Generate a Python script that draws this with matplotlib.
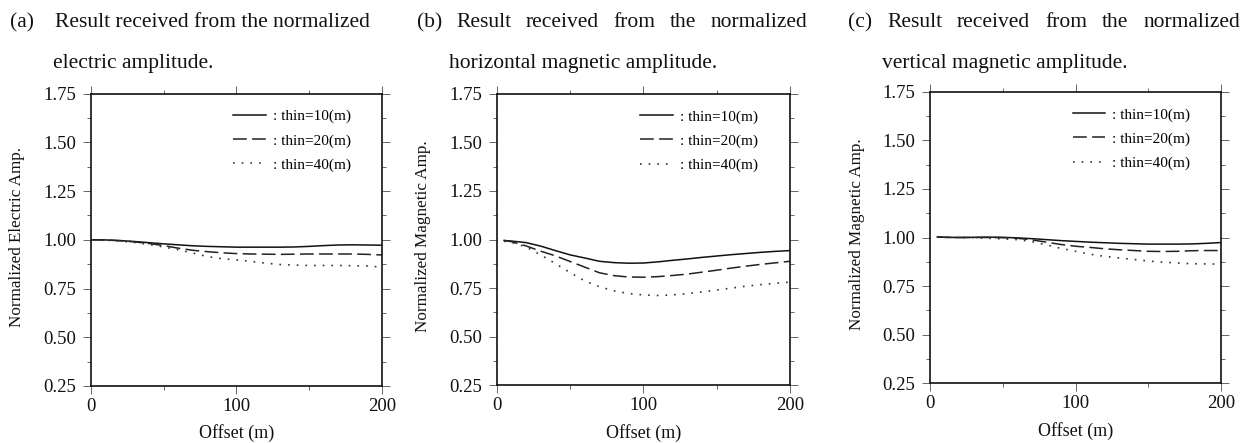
import matplotlib
matplotlib.use("Agg")
import matplotlib.pyplot as plt
from matplotlib.ticker import MultipleLocator

plt.rcParams['font.family'] = ['Liberation Serif', 'DejaVu Serif']

# offsets (m)
x_a = [0, 10, 20, 30, 40, 50, 60, 70, 80, 90, 100, 110, 120, 130, 140, 150, 160, 170, 180, 190, 200]
x_bc = [5, 10, 20, 30, 40, 50, 60, 70, 80, 90, 100, 110, 120, 130, 140, 150, 160, 170, 180, 190, 200]

# (a) normalized electric amplitude
thin10_a = [1.000, 0.999, 0.996, 0.991, 0.985, 0.979, 0.974, 0.969, 0.966, 0.964, 0.962,
            0.962, 0.962, 0.962, 0.963, 0.966, 0.970, 0.973, 0.974, 0.973, 0.972]
thin20_a = [1.000, 0.999, 0.995, 0.989, 0.981, 0.970, 0.957, 0.946, 0.939, 0.933, 0.929,
            0.927, 0.926, 0.925, 0.926, 0.927, 0.927, 0.927, 0.927, 0.925, 0.922]
thin40_a = [1.000, 0.998, 0.993, 0.986, 0.976, 0.963, 0.949, 0.932, 0.914, 0.903, 0.897,
            0.889, 0.880, 0.873, 0.870, 0.868, 0.868, 0.868, 0.867, 0.865, 0.860]

# (b) normalized horizontal magnetic amplitude
thin10_b = [0.995, 0.992, 0.984, 0.966, 0.943, 0.921, 0.905, 0.888, 0.881, 0.878, 0.879,
            0.885, 0.893, 0.900, 0.908, 0.915, 0.922, 0.928, 0.934, 0.939, 0.943]
thin20_b = [0.995, 0.989, 0.967, 0.940, 0.916, 0.887, 0.858, 0.829, 0.814, 0.807, 0.806,
            0.809, 0.815, 0.822, 0.832, 0.842, 0.853, 0.863, 0.872, 0.880, 0.888]
thin40_b = [0.991, 0.985, 0.962, 0.921, 0.876, 0.830, 0.787, 0.757, 0.736, 0.722, 0.715,
            0.712, 0.715, 0.722, 0.730, 0.740, 0.750, 0.760, 0.768, 0.775, 0.781]

# (c) normalized vertical magnetic amplitude
thin10_c = [1.003, 1.001, 1.000, 1.001, 1.002, 1.001, 0.998, 0.994, 0.989, 0.984, 0.980,
            0.976, 0.973, 0.970, 0.968, 0.966, 0.966, 0.966, 0.967, 0.970, 0.974]
thin20_c = [1.003, 1.001, 1.000, 1.000, 1.000, 0.999, 0.996, 0.988, 0.976, 0.964, 0.955,
            0.949, 0.942, 0.937, 0.933, 0.929, 0.928, 0.929, 0.932, 0.933, 0.933]
thin40_c = [1.003, 1.001, 1.000, 0.999, 0.996, 0.993, 0.989, 0.979, 0.962, 0.944, 0.929,
            0.914, 0.903, 0.895, 0.887, 0.879, 0.873, 0.869, 0.865, 0.864, 0.863]

legend_labels = [": thin=10(m)", ": thin=20(m)", ": thin=40(m)"]
ylabels = ["Normalized Electric Amp.", "Normalized Magnetic Amp.", "Normalized Magnetic Amp."]

W, H = 1250, 443
fig = plt.figure(figsize=(W / 100, H / 100), dpi=100)


def px_rect(l, r, t, b):
    return [l / W, 1 - b / H, (r - l) / W, (b - t) / H]


rects = [px_rect(90.7, 382, 93.5, 386), px_rect(496.7, 790, 93.7, 385.3), px_rect(930, 1221, 91.7, 383.3)]
panels = [(x_a, [thin10_a, thin20_a, thin40_a]),
          (x_bc, [thin10_b, thin20_b, thin40_b]),
          (x_bc, [thin10_c, thin20_c, thin40_c])]

styles = [dict(ls='-', lw=1.1, color='#111111'),
          dict(ls=(0, (9, 3.5)), lw=1.1, color='#222222'),
          dict(ls=(0, (1, 4.2)), lw=1.2, color='#333333')]

for rect, (xs, series), ylab in zip(rects, panels, ylabels):
    ax = fig.add_axes(rect)
    for ys, st, lab in zip(series, styles, legend_labels):
        ax.plot(xs, ys, label=lab, **st)
    ax.set_xlim(0, 200)
    ax.set_ylim(0.25, 1.75)
    ax.xaxis.set_major_locator(MultipleLocator(100))
    ax.xaxis.set_minor_locator(MultipleLocator(50))
    ax.yaxis.set_major_locator(MultipleLocator(0.25))
    ax.yaxis.set_minor_locator(MultipleLocator(0.125))
    ax.yaxis.set_major_formatter(plt.FormatStrFormatter('%.2f'))
    ax.tick_params(which='both', direction='out', top=True, right=True,
                   color='#666666', width=0.7, labelsize=13.5, labelcolor='#111111')
    ax.tick_params(which='major', length=5.5)
    ax.tick_params(which='minor', length=3)
    ax.tick_params(axis='x', pad=3)
    ax.tick_params(axis='y', pad=5)
    for sp in ax.spines.values():
        sp.set_linewidth(1.2)
        sp.set_color('#111111')
    ax.text(-0.252, 0.51, ylab, transform=ax.transAxes, rotation=90,
            ha='center', va='center', fontsize=12.3, color='#111111')
    ax.text(0.5, -0.162, "Offset (m)", transform=ax.transAxes,
            ha='center', va='center', fontsize=13, color='#111111')
    ax.legend(loc='upper left', bbox_to_anchor=(0.49, 0.945), frameon=False,
              fontsize=11, handlelength=2.1, handletextpad=0.5,
              labelspacing=0.68, borderpad=0, borderaxespad=0)

TFS = 15.5
renderer = fig.canvas.get_renderer()


def line_of_words(words, x0, x1, y):
    # spread words evenly between x0 and x1 (justified line)
    ts = [fig.text(0, 1 - y / H, w, fontsize=TFS, va='baseline', ha='left', color='#111111')
          for w in words]
    widths = [t.get_window_extent(renderer).width for t in ts]
    gap = (x1 - x0 - sum(widths)) / (len(words) - 1)
    x = x0
    for t, w in zip(ts, widths):
        t.set_x(x / W)
        x += w + gap


fig.text(10 / W, 1 - 27 / H, "(a)", fontsize=TFS, va='baseline', color='#111111')
fig.text(55 / W, 1 - 27 / H, "Result received from the normalized", fontsize=TFS,
         va='baseline', color='#111111')
fig.text(53 / W, 1 - 68 / H, "electric amplitude.", fontsize=TFS, va='baseline', color='#111111')

line_of_words("(b) Result received from the normalized".split(), 417, 807, 27)
fig.text(449 / W, 1 - 68 / H, "horizontal magnetic amplitude.", fontsize=TFS,
         va='baseline', color='#111111')

line_of_words("(c) Result received from the normalized".split(), 848, 1240, 27)
fig.text(882 / W, 1 - 68 / H, "vertical magnetic amplitude.", fontsize=TFS,
         va='baseline', color='#111111')

fig.savefig("out.png", dpi=100)
